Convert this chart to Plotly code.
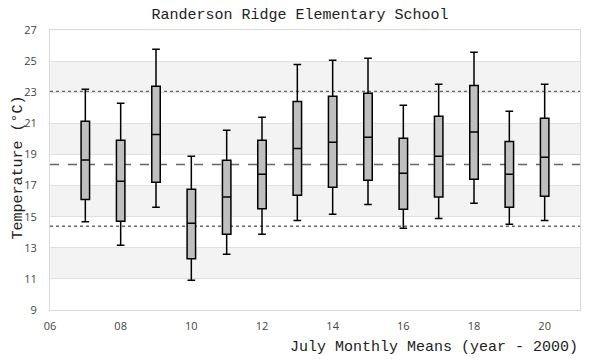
import plotly.graph_objects as go

years = [7, 8, 9, 10, 11, 12, 13, 14, 15, 16, 17, 18, 19, 20]
upper = [23.19, 22.29, 25.76, 18.88, 20.55, 21.39, 24.79, 25.05, 25.18, 22.16, 23.51, 25.57, 21.77, 23.51]
q3 = [21.13, 19.91, 23.38, 16.76, 18.62, 19.91, 22.41, 22.74, 22.93, 20.04, 21.45, 23.44, 19.84, 21.32]
median = [18.64, 17.27, 20.29, 14.57, 16.26, 17.72, 19.39, 19.78, 20.10, 17.79, 18.88, 20.44, 17.72, 18.82]
q1 = [16.11, 14.70, 17.21, 12.30, 13.87, 15.51, 16.37, 16.89, 17.34, 15.47, 16.26, 17.40, 15.60, 16.31]
lower = [14.68, 13.16, 15.60, 10.91, 12.58, 13.87, 14.76, 15.15, 15.79, 14.25, 14.89, 15.86, 14.51, 14.76]

overall_mean = 18.36
upper_limit = 23.04
lower_limit = 14.38

x_ticks = [6, 8, 10, 12, 14, 16, 18, 20]
x_ticktext = ["06", "08", "10", "12", "14", "16", "18", "20"]
y_ticks = [9, 11, 13, 15, 17, 19, 21, 23, 25, 27]
band_ranges = [(11, 13), (15, 17), (19, 21), (23, 25)]

mono = "Liberation Mono"
sans = "Open Sans"

fig = go.Figure()
fig.add_trace(go.Box(
    x=years, q1=q1, median=median, q3=q3,
    lowerfence=lower, upperfence=upper,
    fillcolor="#bfbfbf",
    line=dict(color="black", width=1.5),
    width=0.24, whiskerwidth=0.9,
    boxpoints=False, hoverinfo="skip",
    showlegend=False,
))

shapes = []
for lo, hi in band_ranges:
    shapes.append(dict(type="rect", xref="paper", yref="y", x0=0, x1=1, y0=lo, y1=hi,
                       fillcolor="#f3f3f3", line=dict(width=0), layer="below"))
for val, dash in [(upper_limit, "dot"), (overall_mean, "dash"), (lower_limit, "dot")]:
    shapes.append(dict(type="line", xref="paper", yref="y", x0=0, x1=1, y0=val, y1=val,
                       line=dict(color="#666666", width=1.5, dash=dash), layer="below"))

fig.update_layout(
    width=600, height=360,
    margin=dict(l=50, r=20, t=30, b=50),
    paper_bgcolor="white", plot_bgcolor="white",
    shapes=shapes,
    title=dict(text="Randerson Ridge Elementary School", x=0.5, xanchor="center",
               y=1 - 14 / 360, yanchor="middle",
               font=dict(family=mono, size=15, color="#222222")),
    xaxis=dict(range=[6, 21], tickvals=x_ticks, ticktext=x_ticktext,
               showgrid=False, zeroline=False,
               showline=True, mirror=True, linecolor="#d9d9d9", linewidth=1,
               ticks="outside", ticklen=6, tickcolor="rgba(0,0,0,0)",
               tickfont=dict(family=sans, size=11, color="#444444")),
    yaxis=dict(range=[9, 27], tickvals=y_ticks,
               showgrid=True, gridcolor="#e0e0e0", gridwidth=1, zeroline=False,
               showline=True, mirror=True, linecolor="#d9d9d9", linewidth=1,
               ticks="outside", ticklen=10, tickcolor="rgba(0,0,0,0)",
               tickfont=dict(family=sans, size=11, color="#444444")),
    annotations=[
        dict(text="July Monthly Means (year - 2000)", xref="paper", yref="paper",
             x=1.0, xanchor="right", y=-37 / 280, yanchor="middle", showarrow=False,
             font=dict(family=mono, size=15, color="#222222")),
        dict(text="Temperature (°C)", xref="paper", yref="paper",
             x=-32 / 530, xanchor="center", y=0.509, yanchor="middle", textangle=-90,
             showarrow=False, font=dict(family=mono, size=15, color="#222222")),
    ],
)

fig.write_html("out.html", config={"displayModeBar": False},
               post_script="document.body.style.margin='0';document.body.style.overflow='hidden';")
